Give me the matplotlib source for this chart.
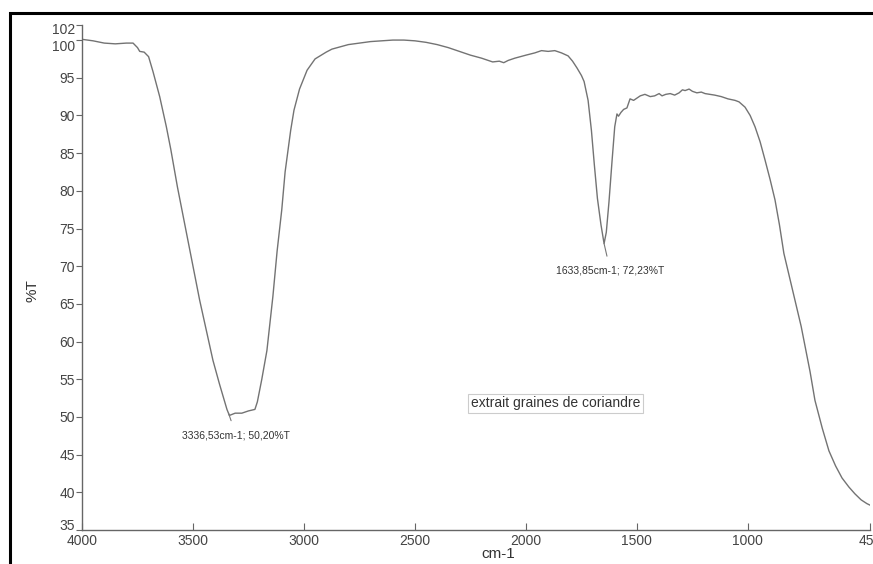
import matplotlib
matplotlib.use("Agg")
import matplotlib.pyplot as plt
import matplotlib.transforms as mtransforms
from matplotlib.patches import Rectangle

plt.rcParams['font.family'] = ['Liberation Sans', 'DejaVu Sans']

# IR spectrum: wavenumber (cm-1) vs transmittance (%T)
wavenumber = [4000, 3950, 3900, 3850, 3800, 3770, 3750, 3740, 3720, 3700, 3680, 3650,
              3620, 3600, 3570, 3540, 3500, 3470, 3440, 3410, 3380, 3360, 3347, 3336,
              3310, 3280, 3250, 3221, 3210, 3200, 3190, 3167, 3140, 3121, 3100, 3085,
              3060, 3045, 3020, 2986, 2950, 2900, 2874, 2800, 2700, 2649, 2600, 2550,
              2500, 2450, 2400, 2350, 2300, 2250, 2200, 2170, 2150, 2120, 2100, 2080,
              2050, 2000, 1960, 1930, 1900, 1870, 1840, 1810, 1790, 1770, 1750, 1738,
              1720, 1705, 1692, 1678, 1662, 1648, 1638, 1626, 1612, 1600, 1590, 1583,
              1572, 1560, 1545, 1531, 1515, 1500, 1485, 1464, 1440, 1420, 1400, 1387,
              1370, 1350, 1330, 1310, 1295, 1283, 1265, 1250, 1230, 1210, 1193, 1170,
              1150, 1120, 1090, 1058, 1040, 1013, 990, 968, 945, 923, 900, 878,
              858, 838, 800, 760, 720, 698, 665, 635, 605, 576, 545, 518,
              490, 464, 450]
transmittance = [100.1, 99.9, 99.6, 99.5, 99.6, 99.6, 99.0, 98.5, 98.4, 97.8, 95.8, 92.5,
                 88.5, 85.5, 80.5, 76.0, 70.0, 65.5, 61.5, 57.5, 54.3, 52.3, 51.0, 50.2,
                 50.5, 50.5, 50.8, 51.0, 52.0, 53.5, 55.0, 58.8, 66.0, 72.0, 77.5, 82.5,
                 88.0, 90.7, 93.5, 96.0, 97.5, 98.4, 98.8, 99.4, 99.8, 99.9, 100.0, 100.0,
                 99.9, 99.7, 99.4, 99.0, 98.5, 98.0, 97.6, 97.3, 97.1, 97.2, 97.0, 97.3,
                 97.6, 98.0, 98.3, 98.6, 98.5, 98.6, 98.3, 97.9, 97.2, 96.3, 95.3, 94.5,
                 92.0, 88.0, 83.5, 79.0, 75.5, 73.0, 74.5, 78.5, 84.0, 88.5, 90.2, 89.9,
                 90.4, 90.8, 91.0, 92.2, 92.0, 92.3, 92.6, 92.8, 92.5, 92.6, 92.9, 92.6,
                 92.8, 92.9, 92.7, 93.0, 93.4, 93.3, 93.5, 93.2, 93.0, 93.1, 92.9, 92.8,
                 92.7, 92.5, 92.2, 92.0, 91.8, 91.1, 90.0, 88.5, 86.5, 84.1, 81.5, 78.8,
                 75.5, 71.7, 67.0, 62.0, 56.0, 52.2, 48.5, 45.5, 43.5, 41.9, 40.7, 39.8,
                 39.0, 38.5, 38.3]

x_ticks = [4000, 3500, 3000, 2500, 2000, 1500, 1000, 450]
y_ticks = [35, 40, 45, 50, 55, 60, 65, 70, 75, 80, 85, 90, 95, 100, 102]

peak_labels = ["3336,53cm-1; 50,20%T", "1633,85cm-1; 72,23%T"]
peak_x = [3336, 1648]
peak_y = [50.2, 73.0]
sample_label = "extrait graines de coriandre"

W, H = 873, 564
fig = plt.figure(figsize=(W / 100, H / 100), dpi=100)
ax = fig.add_axes([82 / W, (H - 530) / H, 788 / W, 505 / H])

line_col = '#737373'
ax.plot(wavenumber, transmittance, color=line_col, lw=1.0)

ax.set_xlim(4000, 450)
ax.set_ylim(35, 102)
ax.set_xticks(x_ticks)
ax.set_yticks(y_ticks)
ax.tick_params(axis='x', direction='in', length=5, color='#666', labelsize=10,
               labelcolor='#444', pad=3)
ax.tick_params(axis='y', direction='out', length=4, color='#666', labelsize=10,
               labelcolor='#444', pad=1)
for s in ['top', 'right']:
    ax.spines[s].set_visible(False)
for s in ['left', 'bottom']:
    ax.spines[s].set_color('#666')
    ax.spines[s].set_linewidth(1.0)

# nudge a few crowded y tick labels like in the scan
fig.canvas.draw()
offsets = {35: 6 / 72 * 72, 100: -5, 102: -4}
for lbl, val in zip(ax.get_yticklabels(), y_ticks):
    if val in (35, 100, 102):
        dy = {35: 6, 100: -5, 102: -3}[val]
        lbl.set_transform(lbl.get_transform() +
                          mtransforms.ScaledTranslation(0, dy / 100, fig.dpi_scale_trans))

ax.set_xlabel('cm-1', fontsize=11, color='#333')
ax.xaxis.set_label_coords((498 - 82) / 788, -0.034)
ax.set_ylabel('%T', fontsize=11, color='#333')
ax.yaxis.set_label_coords(-0.054, 0.474)

# peak annotations
ax.annotate(peak_labels[0], xy=(3340, peak_y[0] + 0.3), xytext=(3306, 47.6),
            fontsize=7.5, color='#333', ha='center', va='center',
            arrowprops=dict(arrowstyle='-', color='#777', lw=0.8, shrinkA=5, shrinkB=0))
ax.annotate(peak_labels[1], xy=(peak_x[1], peak_y[1]), xytext=(1620, 69.4),
            fontsize=7.5, color='#333', ha='center', va='center',
            arrowprops=dict(arrowstyle='-', color='#777', lw=0.8, shrinkA=5, shrinkB=0))

ax.text(1865, 51.8, sample_label, fontsize=10, color='#333', ha='center', va='center',
        bbox=dict(boxstyle='square,pad=0.2', fc='white', ec='#cccccc', lw=0.8))

# black frame around the figure (cut at right/bottom)
fig.add_artist(Rectangle((10 / W, -0.1), 1.2, 1 - 13 / H + 0.1, transform=fig.transFigure,
                         fill=False, ec='black', lw=2.2))

fig.savefig('out.png', dpi=100)
